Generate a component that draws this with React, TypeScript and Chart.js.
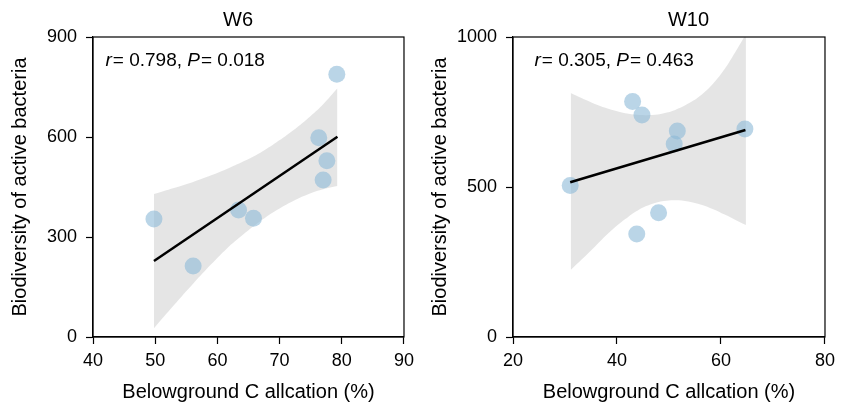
import React, { useEffect, useRef } from 'react';
import { Chart, registerables } from 'chart.js';

Chart.register(...registerables);

const FONT = "'Liberation Sans', Arial, Helvetica, sans-serif";
const X_TITLE = 'Belowground C allcation (%)';
const Y_TITLE = 'Biodiversity of active bacteria';

// ---- W6 ----
const w6PointX = [79.2, 49.8, 56.1, 63.4, 65.8, 76.3, 77.6, 77.0];
const w6PointY = [788, 354, 213, 381, 356, 598, 529, 471];
const w6FitX = [49.8, 79.3];
const w6FitY = [228, 601];
const w6BandX = [49.8, 53, 56.2, 59, 61.5, 64.2, 66.9, 69.5, 72.2, 75, 77, 79.3];
const w6BandUpper = [429, 447, 466, 485, 504, 527, 553, 584, 620, 663, 698, 746];
const w6BandLower = [26, 95, 162, 218, 265, 308, 347, 380, 408, 431, 443, 453];
const w6XTicks = [40, 50, 60, 70, 80, 90];
const w6YTicks = [0, 300, 600, 900];
const w6Stats = ['0.798', '0.018'];

// ---- W10 ----
const w10PointX = [31.0, 43.0, 44.8, 51.6, 51.0, 64.6, 48.0, 43.8];
const w10PointY = [505, 785, 740, 687, 643, 693, 414, 343];
const w10FitX = [31.0, 64.7];
const w10FitY = [516, 690];
const w10BandX = [31.1, 35.3, 38.5, 41.6, 44, 46.7, 49, 51.2, 53.7, 56.2, 58.5, 60.7, 62.7, 64.8];
const w10BandUpper = [813, 780, 760, 746, 741, 740, 746, 757, 778, 807, 845, 893, 948, 1010];
const w10BandLower = [223, 293, 348, 393, 422, 443, 453, 456, 452, 441, 426, 408, 391, 373];
const w10XTicks = [20, 40, 60, 80];
const w10YTicks = [0, 500, 1000];
const w10Stats = ['0.305', '0.463'];

type PanelProps = {
  title: string;
  titleX: number;
  statX: number;
  width: number;
  px: number[];
  py: number[];
  fx: number[];
  fy: number[];
  bx: number[];
  bu: number[];
  bl: number[];
  xTicks: number[];
  yTicks: number[];
  stats: string[];
};

const zip = (xs: number[], ys: number[]) => xs.map((x, i) => ({ x, y: ys[i] }));

function Panel(p: PanelProps) {
  const ref = useRef<HTMLCanvasElement | null>(null);
  useEffect(() => {
    if (!ref.current) return;
    const textPlugin = {
      id: 'panelText',
      afterDraw(chart: any) {
        const { ctx, chartArea } = chart;
        ctx.save();
        // frame
        ctx.strokeStyle = '#000';
        ctx.lineWidth = 1.2;
        ctx.strokeRect(chartArea.left, chartArea.top, chartArea.right - chartArea.left, chartArea.bottom - chartArea.top);
        // title
        ctx.fillStyle = '#000';
        ctx.textBaseline = 'alphabetic';
        ctx.textAlign = 'center';
        ctx.font = `20px ${FONT}`;
        ctx.fillText(p.title, p.titleX, 26);
        // stats annotation
        ctx.textAlign = 'left';
        const parts: [string, boolean][] = [
          ['r', true],
          [`= ${p.stats[0]}, `, false],
          ['P', true],
          [`= ${p.stats[1]}`, false],
        ];
        let x = p.statX;
        for (const [t, it] of parts) {
          ctx.font = `${it ? 'italic ' : ''}19px ${FONT}`;
          ctx.fillText(t, x, 66);
          x += ctx.measureText(t).width + (it ? 1 : 0);
        }
        ctx.restore();
      },
    };
    const xMin = p.xTicks[0];
    const xMax = p.xTicks[p.xTicks.length - 1];
    const yMin = p.yTicks[0];
    const yMax = p.yTicks[p.yTicks.length - 1];
    const axisCommon = {
      grid: { drawOnChartArea: false, drawTicks: true, tickLength: 7, color: '#000', tickColor: '#000', tickWidth: 1.2 },
      border: { color: '#000', width: 1.2 },
    };
    const chart = new Chart(ref.current, {
      type: 'line',
      data: {
        datasets: [
          {
            data: zip(p.fx, p.fy),
            borderColor: '#000',
            borderWidth: 2.5,
            pointRadius: 0,
            fill: false,
          },
          {
            data: zip(p.px, p.py),
            showLine: false,
            pointRadius: 8.5,
            pointBackgroundColor: 'rgba(140,185,215,0.6)',
            pointBorderWidth: 0,
            pointBorderColor: 'rgba(0,0,0,0)',
          },
          {
            data: zip(p.bx, p.bu),
            borderWidth: 0,
            borderColor: 'rgba(0,0,0,0)',
            pointRadius: 0,
            tension: 0.4,
            fill: '+1',
            backgroundColor: 'rgba(0,0,0,0.1)',
          },
          {
            data: zip(p.bx, p.bl),
            borderWidth: 0,
            borderColor: 'rgba(0,0,0,0)',
            pointRadius: 0,
            tension: 0.4,
            fill: false,
          },
        ],
      } as any,
      options: {
        responsive: false,
        animation: false,
        events: [],
        layout: { padding: { top: 37, right: 13, left: 0, bottom: 0 } },
        plugins: { legend: { display: false }, tooltip: { enabled: false }, title: { display: false } },
        scales: {
          x: {
            type: 'linear',
            min: xMin,
            max: xMax,
            ...axisCommon,
            afterBuildTicks: (s: any) => {
              s.ticks = p.xTicks.map((v) => ({ value: v }));
            },
            afterFit: (s: any) => {
              s.height = 73;
            },
            ticks: { color: '#000', font: { size: 18, family: FONT }, padding: 6, maxRotation: 0, callback: (v: any) => String(v) },
            title: { display: true, text: X_TITLE, color: '#000', font: { size: 20, family: FONT }, padding: { top: 0, bottom: 6 } },
          },
          y: {
            type: 'linear',
            min: yMin,
            max: yMax,
            ...axisCommon,
            afterBuildTicks: (s: any) => {
              s.ticks = p.yTicks.map((v) => ({ value: v }));
            },
            afterFit: (s: any) => {
              s.width = 93;
            },
            ticks: { color: '#000', font: { size: 18, family: FONT }, padding: 9, callback: (v: any) => String(v) },
            title: { display: true, text: Y_TITLE, color: '#000', font: { size: 20, family: FONT }, padding: { top: 8, bottom: 0 } },
          },
        },
      } as any,
      plugins: [textPlugin],
    });
    return () => chart.destroy();
  }, []);
  return (
    <canvas
      ref={ref}
      width={p.width}
      height={410}
      style={{ display: 'block', width: p.width, height: 410 }}
    />
  );
}

export default function App() {
  return (
    <div style={{ position: 'fixed', left: 0, top: 0, width: 841, height: 410, display: 'flex', background: '#fff' }}>
      <Panel
        title="W6"
        titleX={238}
        statX={105.5}
        width={420}
        px={w6PointX}
        py={w6PointY}
        fx={w6FitX}
        fy={w6FitY}
        bx={w6BandX}
        bu={w6BandUpper}
        bl={w6BandLower}
        xTicks={w6XTicks}
        yTicks={w6YTicks}
        stats={w6Stats}
      />
      <Panel
        title="W10"
        titleX={268.5}
        statX={114.5}
        width={421}
        px={w10PointX}
        py={w10PointY}
        fx={w10FitX}
        fy={w10FitY}
        bx={w10BandX}
        bu={w10BandUpper}
        bl={w10BandLower}
        xTicks={w10XTicks}
        yTicks={w10YTicks}
        stats={w10Stats}
      />
    </div>
  );
}
